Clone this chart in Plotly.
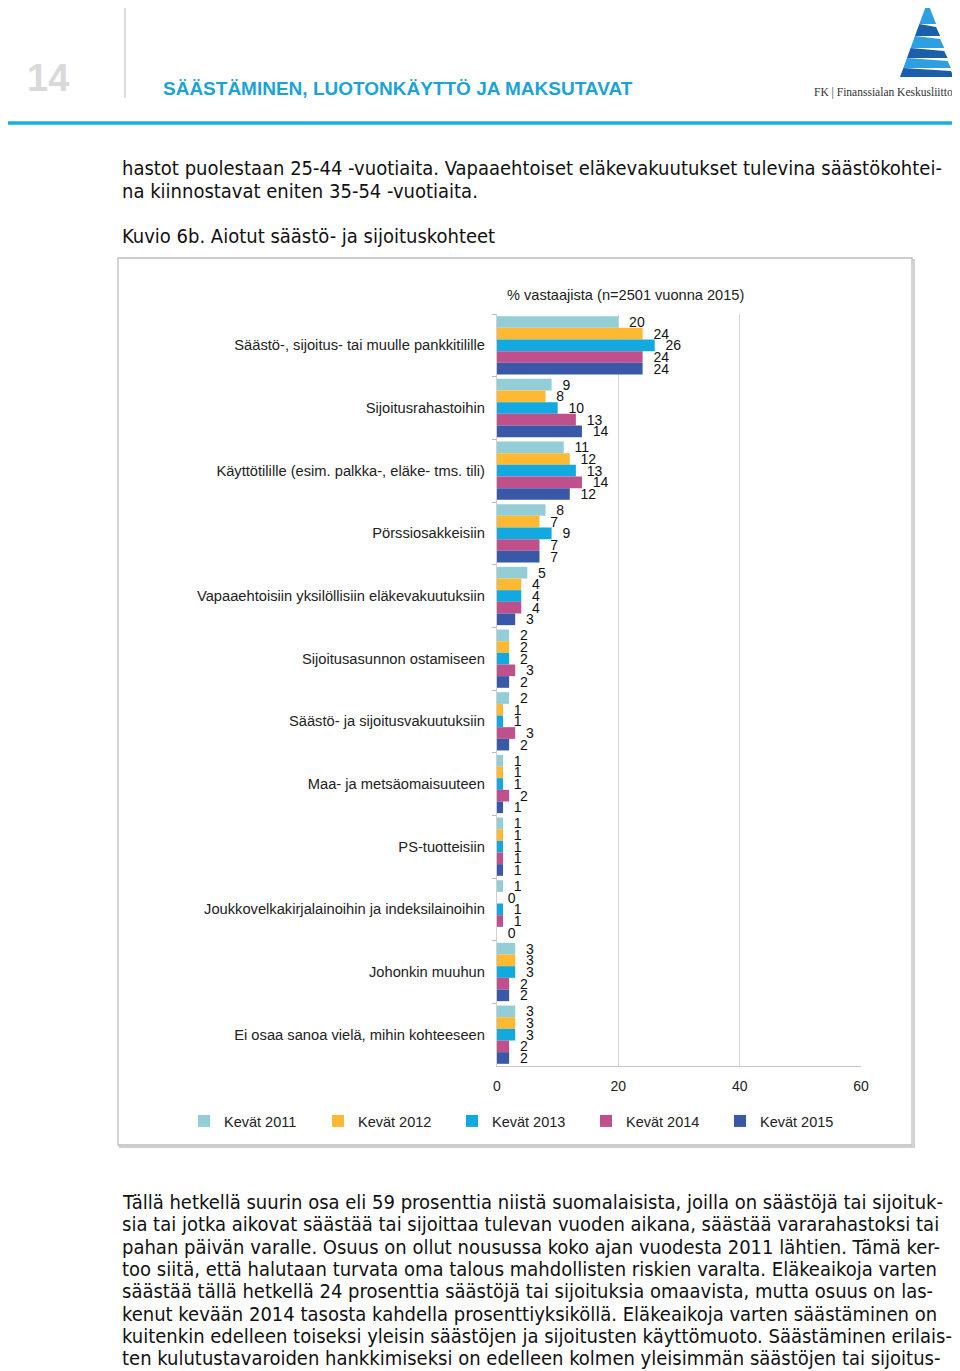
import plotly.graph_objects as go

categories = [
    "Säästö-, sijoitus- tai muulle pankkitilille",
    "Sijoitusrahastoihin",
    "Käyttötilille (esim. palkka-, eläke- tms. tili)",
    "Pörssiosakkeisiin",
    "Vapaaehtoisiin yksilöllisiin eläkevakuutuksiin",
    "Sijoitusasunnon ostamiseen",
    "Säästö- ja sijoitusvakuutuksiin",
    "Maa- ja metsäomaisuuteen",
    "PS-tuotteisiin",
    "Joukkovelkakirjalainoihin ja indeksilainoihin",
    "Johonkin muuhun",
    "Ei osaa sanoa vielä, mihin kohteeseen",
]
series_names = ["Kevät 2011", "Kevät 2012", "Kevät 2013", "Kevät 2014", "Kevät 2015"]
kevat_2011 = [20, 9, 11, 8, 5, 2, 2, 1, 1, 1, 3, 3]
kevat_2012 = [24, 8, 12, 7, 4, 2, 1, 1, 1, 0, 3, 3]
kevat_2013 = [26, 10, 13, 9, 4, 2, 1, 1, 1, 1, 3, 3]
kevat_2014 = [24, 13, 14, 7, 4, 3, 3, 2, 1, 1, 2, 2]
kevat_2015 = [24, 14, 12, 7, 3, 2, 2, 1, 1, 0, 2, 2]
series_values = [kevat_2011, kevat_2012, kevat_2013, kevat_2014, kevat_2015]
series_colors = ["#93CDD6", "#FDB931", "#12A9E0", "#C0508C", "#3A58A8"]
x_ticks = [0, 20, 40, 60]

body_top = [
    "hastot puolestaan 25-44 -vuotiaita. Vapaaehtoiset eläkevakuutukset tulevina säästökohtei-",
    "na kiinnostavat eniten 35-54 -vuotiaita.",
]
caption = "Kuvio 6b. Aiotut säästö- ja sijoituskohteet"
body_bottom = [
    "Tällä hetkellä suurin osa eli 59 prosenttia niistä suomalaisista, joilla on säästöjä tai sijoituk-",
    "sia tai jotka aikovat säästää tai sijoittaa tulevan vuoden aikana, säästää vararahastoksi tai",
    "pahan päivän varalle. Osuus on ollut nousussa koko ajan vuodesta 2011 lähtien. Tämä ker-",
    "too siitä, että halutaan turvata oma talous mahdollisten riskien varalta. Eläkeaikoja varten",
    "säästää tällä hetkellä 24 prosenttia säästöjä tai sijoituksia omaavista, mutta osuus on las-",
    "kenut kevään 2014 tasosta kahdella prosenttiyksiköllä. Eläkeaikoja varten säästäminen on",
    "kuitenkin edelleen toiseksi yleisin säästöjen ja sijoitusten käyttömuoto. Säästäminen erilais-",
    "ten kulutustavaroiden hankkimiseksi on edelleen kolmen yleisimmän säästöjen tai sijoitus-",
]

# page is offset by the 8px default body margin of the html page
OFF = 8
W, H = 960 - OFF, 1371 - OFF
ML = 497 - OFF
MT = 314 - OFF
MR = W - (861 - OFF)
MB = H - (1066 - OFF)
PW, PH = W - ML - MR, H - MT - MB


def px(x):
    return (x - OFF - ML) / PW


def py(y):
    return 1 - (y - OFF - MT) / PH


NARROW = "DejaVu Sans Condensed, Liberation Sans Narrow, Arial Narrow, sans-serif"
SANS = "Liberation Sans, Arial, sans-serif"

fig = go.Figure()
for name, vals, col in zip(series_names, series_values, series_colors):
    fig.add_trace(go.Bar(
        y=categories, x=vals, name=name, orientation="h",
        marker=dict(color=col, line=dict(width=0)),
        text=vals, texttemplate="  %{x}", textposition="outside",
        constraintext="none", cliponaxis=False,
        textfont=dict(family=SANS, size=14, color="#111"),
        hoverinfo="x+y+name",
    ))

annotations = []


def add_text(x, y, text, size, color="#111", family=NARROW, xanchor="left", bold=False):
    annotations.append(dict(
        x=px(x), y=py(y), xref="paper", yref="paper", text=("<b>%s</b>" % text) if bold else text,
        showarrow=False, xanchor=xanchor, yanchor="middle", borderpad=0, borderwidth=0,
        font=dict(family=family, size=size, color=color),
    ))


# header
add_text(27, 78, "14", 38, color="#D9D9D9", family=SANS, bold=True)
add_text(163, 88, "SÄÄSTÄMINEN, LUOTONKÄYTTÖ JA MAKSUTAVAT", 19, color="#1BA3D9", family=SANS, bold=True)
add_text(953, 93, "FK | Finanssialan Keskusliitto", 11.5, color="#333", family="Liberation Serif, serif", xanchor="right")

# body text
for i, line in enumerate(body_top):
    add_text(122, 168 + 22.5 * i, line, 20)
add_text(122, 236, caption, 20)
for i, line in enumerate(body_bottom):
    add_text(122, 1202 + 22.3 * i, line, 20)

# chart subtitle
add_text(507, 295, "% vastaajista (n=2501 vuonna 2015)", 14.6, color="#222", family=SANS)

shapes = []
# header rules
shapes.append(dict(type="line", xref="paper", yref="paper", x0=px(125), x1=px(125), y0=py(0), y1=py(98),
                   line=dict(color="#DDDDDD", width=2)))
shapes.append(dict(type="line", xref="paper", yref="paper", x0=px(0), x1=px(955), y0=py(123), y1=py(123),
                   line=dict(color="#1AAEE0", width=3.5)))
# chart box with shadow
shapes.append(dict(type="rect", xref="paper", yref="paper", x0=px(120), x1=px(914), y0=py(260), y1=py(1147),
                   line=dict(color="#D0D0D0", width=2), layer="below"))
shapes.append(dict(type="rect", xref="paper", yref="paper", x0=px(118), x1=px(912), y0=py(258), y1=py(1145),
                   line=dict(color="#BDBDBD", width=1.3), fillcolor="white", layer="below"))


# logo (stacked bands of a stylised sail)
def band(y0, y1, color):
    def lx(y):
        return 927 - (y - 3) * (27 / 74)

    def rx(y):
        return 927 + (y - 3) * (25 / 74)

    path = "M {:.4f},{:.4f} L {:.4f},{:.4f} L {:.4f},{:.4f} L {:.4f},{:.4f} Z".format(
        px(lx(y0)), py(y0), px(rx(y0) + 2), py(y0 + 3), px(rx(y1) + 2), py(y1), px(lx(y1)), py(y1))
    shapes.append(dict(type="path", xref="paper", yref="paper", path=path,
                       fillcolor=color, line=dict(width=0)))


band(3, 24, "#2E9FE0")
band(24, 36, "#1C5FA9")
band(36, 48, "#2E9FE0")
band(48, 58, "#1C5FA9")
band(58, 68, "#2E9FE0")
band(68, 77, "#1C5FA9")

fig.update_layout(
    width=W, height=H,
    margin=dict(l=ML, r=MR, t=MT, b=MB, pad=0),
    paper_bgcolor="white", plot_bgcolor="white",
    barmode="group", bargap=0.07, bargroupgap=0,
    font=dict(family=SANS, size=13, color="#222"),
    annotations=annotations, shapes=shapes,
    showlegend=True,
    legend=dict(orientation="h", x=px(184), y=py(1121), xanchor="left", yanchor="middle",
                entrywidth=89, entrywidthmode="pixels", traceorder="normal",
                font=dict(family=SANS, size=14.5, color="#222"), itemwidth=30,
                bgcolor="rgba(0,0,0,0)"),
    xaxis=dict(range=[0, 60], tickvals=x_ticks, showgrid=True, gridcolor="#D9D9D9", gridwidth=1.3,
               zeroline=False, showline=True, linecolor="#C8C8C8", linewidth=1.3,
               ticks="", ticklabelstandoff=7, tickfont=dict(family=SANS, size=14, color="#222"),
               fixedrange=True),
    yaxis=dict(autorange="reversed", showline=True, linecolor="#D0D0D0", linewidth=1.3,
               ticks="outside", tickson="boundaries", ticklen=4, tickcolor="#BBBBBB",
               ticklabelstandoff=8, tickfont=dict(family=SANS, size=14.7, color="#222"),
               showgrid=False, fixedrange=True),
)

fig.write_html("out.html")
